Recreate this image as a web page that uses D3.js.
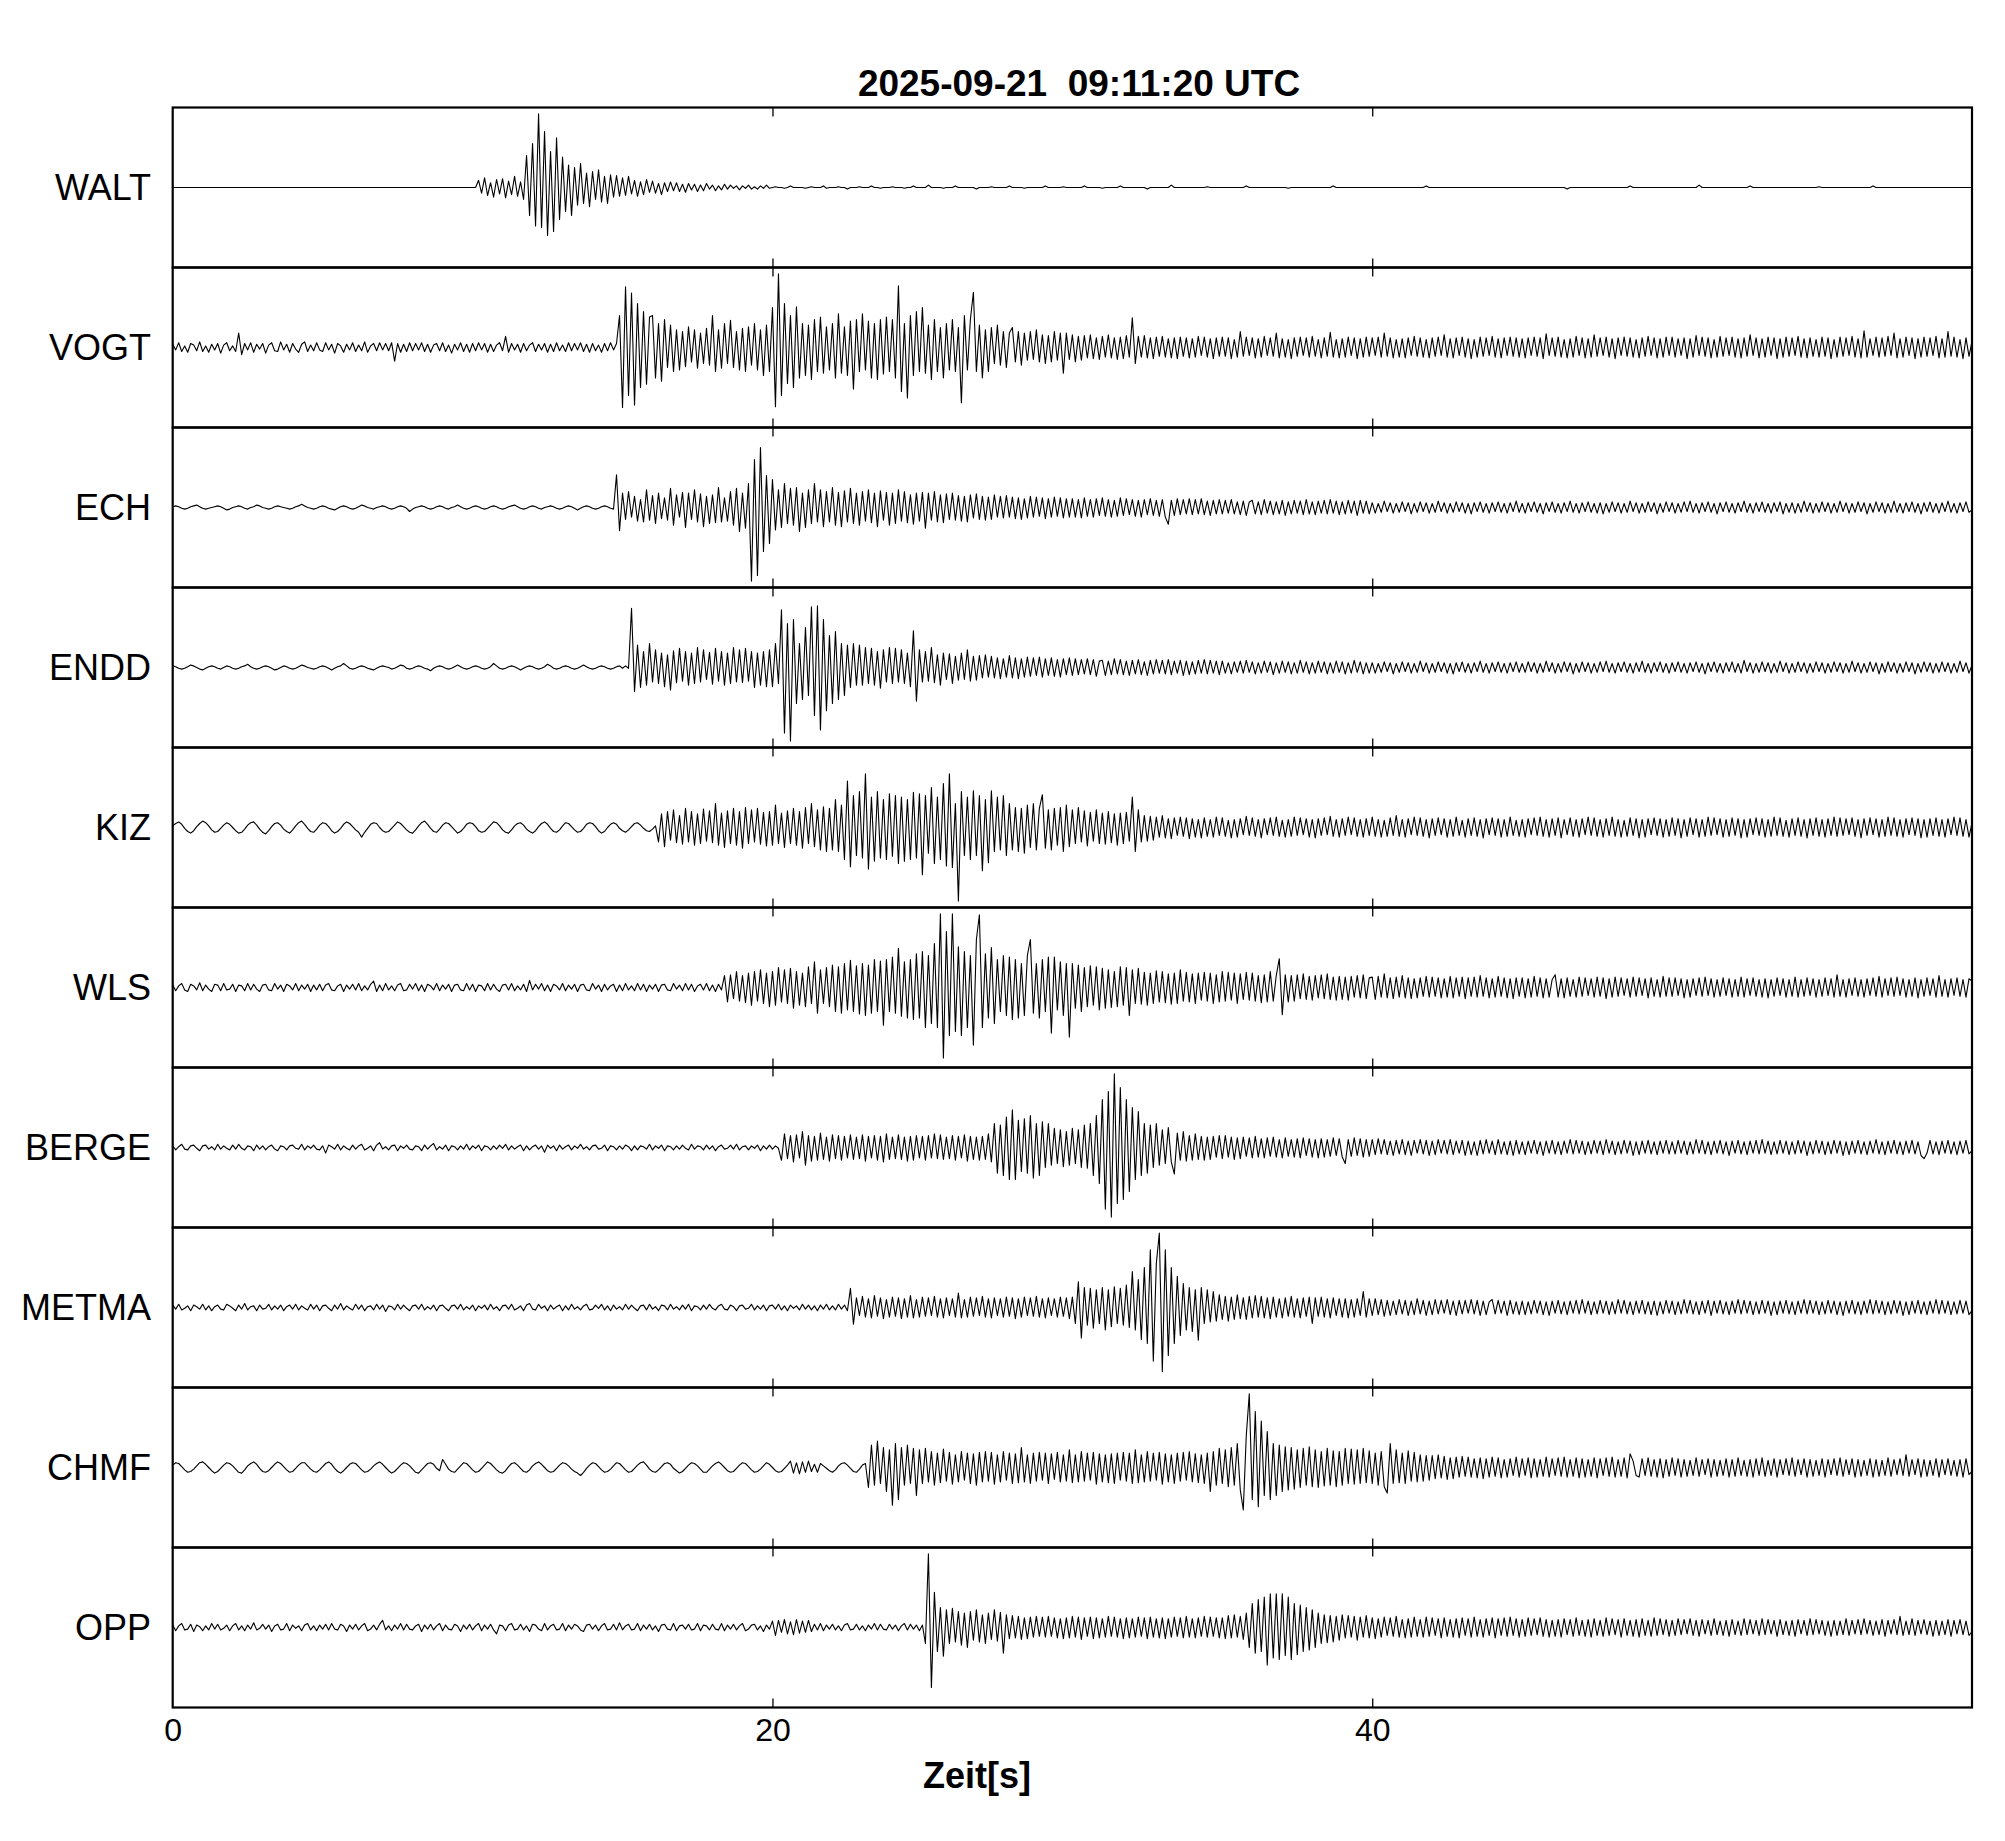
<!DOCTYPE html>
<html>
<head>
<meta charset="utf-8">
<script src="https://cdn.jsdelivr.net/npm/d3@7"></script>
<style>
  body { margin: 0; background: #fff; }
  text { font-family: "Liberation Sans", Arial, Helvetica, sans-serif; fill: #000; }
</style>
</head>
<body>
<script>
// seismogram samples: one value every 0.1 s from 0 to 60 s,
// relative amplitude (+-100 = half the track height). one row = 5 s
const DT = 0.1;
const stations = ["WALT", "VOGT", "ECH", "ENDD", "KIZ", "WLS", "BERGE", "METMA", "CHMF", "OPP"];
const xTicks = [0, 20, 40];
const title = "2025-09-21  09:11:20 UTC";
const xLabel = "Zeit[s]";

const WALT = [
  0,0,0,0,0,0,0,0,0,0,  0,0,0,0,0,0,0,0,0,0,  0,0,0,0,0,0,0,0,0,0,  0,0,0,0,0,0,0,0,0,0,  0,0,0,0,0,0,0,0,0,0,
  0,0,0,0,0,0,0,0,0,0,  0,0,0,0,0,0,0,0,0,0,  0,0,0,0,0,0,0,0,0,0,  0,0,0,0,0,0,0,0,0,0,  0,0,0,0,0,0,0,0,0,0,
  0,0,9,-7,12,-10,6,-12,10,-8,  11,-13,8,-9,14,-11,7,-15,40,-35,  55,-48,92,-50,70,-60,45,-55,62,-40,  38,-30,28,-35,25,-22,30,-20,18,-24,  20,-15,22,-18,14,-20,16,-12,15,-11,
  12,-10,14,-8,9,-11,7,-9,10,-6,  8,-7,5,-9,6,-5,7,-4,6,-5,  4,-6,5,-3,4,-5,3,-4,5,-2,  3,-4,2,-3,4,-2,3,-1,2,-3,  2,-1,3,-2,1,-2,2,-1,3,-1,
  0,1,0,0,-1,0,2,0,0,0,  0,-1,0,1,0,0,0,2,-1,0,  0,0,1,0,0,-2,0,0,0,1,  0,0,0,2,0,0,-1,0,0,0,  1,0,0,0,-1,0,0,2,0,0,
  0,0,3,0,0,0,0,-1,0,0,  0,2,0,0,0,0,0,0,-2,0,  0,0,0,1,0,0,0,0,0,2,  0,0,0,0,-1,0,0,0,0,0,  0,2,0,0,0,0,0,1,0,0,
  0,0,0,0,2,0,0,0,0,0,  -1,0,0,0,0,0,2,0,0,0,  0,0,0,0,0,-2,0,0,0,0,  0,0,0,3,0,0,0,0,0,0,  0,0,0,0,0,1,0,0,0,0,
  0,0,0,0,0,0,0,0,2,0,  0,0,0,0,0,0,0,0,0,0,  0,0,-1,0,0,0,0,0,0,0,  0,0,0,0,0,0,0,2,0,0,  0,0,0,0,0,0,0,0,0,0,
  0,0,0,0,0,0,0,0,0,0,  0,0,0,0,0,0,0,0,2,0,  0,0,0,0,0,0,0,0,0,0,  0,0,0,0,0,0,0,0,0,0,  0,0,0,0,0,0,0,0,0,0,
  0,0,0,0,0,0,0,0,0,0,  0,0,0,0,0,-2,0,0,0,0,  0,0,0,0,0,0,0,0,0,0,  0,0,0,0,0,0,2,0,0,0,  0,0,0,0,0,0,0,0,0,0,
  0,0,0,0,0,0,0,0,0,3,  0,0,0,0,0,0,0,0,0,0,  0,0,0,0,0,0,2,0,0,0,  0,0,0,0,0,0,0,0,0,0,  0,0,0,0,0,0,0,0,0,1,
  0,0,0,0,0,0,0,0,0,0,  0,0,0,0,0,0,0,2,0,0,  0,0,0,0,0,0,0,0,0,0,  0,0,0,0,0,0,0,0,0,0,  0,0,0,0,0,0,0,0,0,0,
  0
];
const VOGT = [
  4,-3,6,-5,2,-6,5,3,-4,7,  -5,2,-6,4,-3,5,-7,3,6,-4,  2,-5,18,-9,5,-3,6,-6,4,-2,  5,-7,3,6,-4,-5,7,-3,4,-6,  5,-2,-6,4,7,-5,3,-4,6,-3,
  -5,6,-3,4,-7,5,2,-6,4,-3,  6,-5,3,-4,7,-6,2,5,-4,6,  -3,5,-4,6,-17,5,-6,4,-5,6,  -4,5,-3,6,-5,4,-6,3,5,-4,  6,-5,3,-7,4,-3,6,-5,4,-6,
  5,-4,6,-3,5,-6,4,-5,3,6,  -4,14,-6,5,-3,4,-6,5,-4,3,  6,-5,4,-3,5,-6,4,-5,6,-4,  3,-5,6,-4,5,-3,6,-5,4,-6,  5,-4,3,-6,5,-4,6,-3,5,40,
  -75,76,-60,68,-72,55,-50,45,-46,38,  40,-38,30,-42,35,-25,28,-30,22,-28,  20,-24,26,-18,22,-26,18,-20,24,-22,  40,-30,22,-26,30,-20,34,-25,20,-28,  24,-30,26,-22,30,-28,22,-35,28,-30,
  50,-74,92,-60,55,-45,40,-50,51,-38,  30,-35,28,-40,35,-30,38,-32,26,-28,  30,-38,42,-32,26,-35,33,-52,35,-30,  42,-28,33,-38,30,-40,35,-33,38,-30,  35,-38,77,-55,30,-63,40,-35,45,-30,
  50,-32,28,-40,35,-30,25,-38,30,-28,  35,-30,25,-69,40,-28,35,69,-30,28,  -38,22,-30,25,-20,28,-22,20,-25,18,  25,-18,20,-22,18,-16,20,-15,22,-18,  16,-20,15,-18,20,-16,18,-32,18,-15,
  16,-18,14,-16,15,-13,16,-14,12,-15,  14,-12,16,-13,12,-15,13,-14,15,-12,  37,-20,14,-12,15,-13,12,-14,13,-11,  14,-12,11,-13,12,-14,13,-11,12,-13,  11,-12,14,-10,13,-12,11,-14,12,-11,
  13,-11,12,-14,10,-12,20,-11,13,-10,  12,-13,11,-12,14,-10,12,-11,18,-13,  11,-12,10,-14,12,-11,13,-10,12,-12,  14,-11,10,-13,12,-11,19,-12,10,-13,  11,-12,13,-10,12,-14,11,-12,13,-11,
  12,-10,13,-12,18,-11,12,-13,10,-12,  11,-13,12,-10,14,-11,12,-12,10,-13,  12,-11,13,-10,16,-12,11,-13,12,-10,  13,-12,11,-14,10,-12,13,-11,12,-10,  14,-12,11,-13,12,-10,13,-11,12,-12,
  11,-13,12,-10,13,-11,12,-14,17,-10,  12,-11,13,-12,10,-13,11,-12,14,-10,  12,-13,11,-12,16,-11,12,-10,13,-12,  11,-14,12,-10,13,-11,12,-12,10,-13,  12,-11,14,-10,12,-13,11,-12,13,-10,
  13,-12,11,-10,12,-14,11,-12,15,-10,  13,-11,12,-13,10,-12,14,-11,12,-10,  13,-12,11,-13,12,-11,16,-10,12,-13,  11,-12,13,-10,12,-14,11,-12,13,-11,  12,-10,14,-12,11,-13,12,-11,10,-12,
  13,-11,12,-14,10,-12,13,-11,12,-10,  14,-12,11,-13,21,-12,11,-10,13,-12,  12,-11,14,-10,18,-13,11,-12,13,-10,  12,-14,11,-12,13,-11,12,-10,14,-13,  11,-12,20,-11,13,-12,10,-14,12,-11,
  8
];
const ECH = [
  1,2,1,-1,-2,-1,1,2,3,1,  -1,-2,-1,0,1,2,1,-1,-3,-2,  0,1,2,1,-1,-2,0,1,3,2,  0,-1,-2,-1,1,2,1,0,-1,-2,  -1,1,2,4,2,0,-1,-2,-1,1,
  2,1,-1,-2,-3,-1,1,2,1,-1,  -2,-1,1,3,2,0,-1,-2,0,1,  2,1,-1,-2,-1,1,2,1,-1,-5,  -2,0,1,2,1,-1,-2,-1,1,2,  1,-1,-2,0,1,3,1,-1,-2,-1,
  1,2,1,-1,-2,-1,1,2,1,-1,  -2,-1,1,2,3,1,-1,-2,-1,1,  2,1,-1,-2,0,1,2,1,-1,-2,  -1,1,2,1,-1,-3,-1,1,2,1,  -1,-2,-1,1,2,1,-1,-2,41,-29,
  18,-15,20,-12,14,-17,10,-18,22,-16,  15,-20,18,-14,12,-16,24,-22,16,-12,  19,-25,18,-15,22,-18,17,-24,14,-20,  16,-19,25,-18,12,-17,20,-22,24,-30,  18,-26,30,-92,60,-85,75,-55,40,-45,
  35,-28,22,-25,30,-20,24,-22,25,-30,  18,-25,22,-20,30,-18,22,-24,20,-18,  25,-22,19,-24,21,-18,24,-20,18,-22,  20,-17,22,-19,18,-24,21,-16,19,-22,  18,-20,22,-17,20,-19,16,-21,18,-17,
  19,-26,18,-16,20,-18,16,-19,17,-15,  18,-16,15,-17,14,-18,16,-13,17,-15,  14,-16,13,-15,16,-12,14,-13,15,-12,  13,-14,12,-15,11,-13,14,-12,13,-11,  12,-14,11,-12,13,-11,12,-13,11,-12,
  11,-12,10,-13,12,-11,10,-12,11,-10,  12,-11,10,-12,9,-11,12,-10,11,-9,  10,-11,9,-12,10,-9,11,-10,9,-11,  10,-12,-21,9,-10,11,-9,10,-8,11,  -9,10,-8,11,-9,8,-10,9,-8,10,
  -8,9,-7,10,-8,7,-9,8,-10,7,  9,-8,7,-9,10,-7,8,-9,7,-8,  9,-10,7,-8,9,-7,8,-9,10,-8,  7,-9,8,-7,9,-8,10,-7,8,-9,  7,-8,9,-7,8,-10,9,-7,8,-8,
  6,-7,5,-6,8,-5,6,-7,5,-6,  7,-5,6,-8,5,-6,7,-5,6,-7,  5,-6,8,-5,6,-7,5,-6,7,-5,  6,-7,5,-8,6,-5,7,-6,5,-7,  6,-5,7,-6,5,-7,6,-5,8,-6,
  5,-7,6,-5,7,-6,5,-8,6,-5,  7,-6,5,-7,6,-5,8,-6,5,-7,  6,-5,7,-6,5,-7,6,-8,5,-6,  7,-5,6,-7,5,-6,8,-5,6,-7,  5,-6,7,-5,6,-8,5,-6,7,-5,
  6,-7,5,-6,7,-5,8,-6,5,-7,  6,-5,7,-6,5,-8,6,-5,7,-6,  5,-7,6,-5,8,-6,5,-7,6,-5,  7,-6,5,-7,6,-5,7,-8,5,-6,  6,-7,5,-6,8,-5,6,-7,5,-6,
  7,-5,6,-7,5,-6,8,-5,6,-7,  5,-6,7,-5,6,-8,5,-6,7,-5,  6,-7,5,-6,8,-6,5,-7,6,-5,  7,-6,5,-8,6,-5,7,-6,5,-7,  6,-5,8,-6,5,-7,6,-5,7,-6,
  -3
];
const ENDD = [
  2,1,-1,-2,-1,1,3,2,0,-2,  -3,-1,1,2,1,-1,-2,0,2,1,  -1,-2,-1,1,2,4,1,-1,-2,-1,  1,2,1,-1,-3,-2,0,2,1,-1,  -2,-1,1,3,2,0,-1,-2,-1,1,
  2,1,-1,-3,-1,1,2,5,2,-1,  -2,-1,1,2,1,-1,-2,-3,-1,1,  2,1,0,-2,-1,1,3,2,-1,-2,  -1,1,2,1,-1,-2,-4,-1,1,2,  1,-1,-2,-1,1,3,1,-1,-2,-1,
  1,2,1,-1,-2,-1,1,5,2,-1,  -2,-1,1,2,1,-1,-3,-1,1,2,  1,-1,-2,-1,1,4,2,-1,-2,-1,  1,2,1,-1,-2,-1,1,3,1,-1,  -2,-1,1,2,1,-1,-2,-1,1,2,
  -1,2,-1,74,-30,28,-25,20,-22,30,  -18,22,-20,18,-24,16,-28,21,-19,24,  -17,20,-22,18,-20,25,-18,22,-15,19,  -21,24,-17,20,-22,18,-20,25,-18,22,  -19,24,-17,20,-25,18,-22,20,-24,22,
  -24,30,-20,72,-82,55,-92,60,-45,30,  -40,50,-35,76,-60,77,-78,60,-54,40,  -45,45,-40,30,-35,28,-25,30,-22,28,  -22,25,-20,24,-22,20,-26,22,-18,25,  -20,24,-18,22,-20,18,-24,46,-42,22,
  -18,20,-17,25,-19,16,-22,18,-15,17,  -20,14,-16,18,-15,22,-17,14,-16,15,  -13,16,-12,14,-13,12,-14,11,-12,15,  -13,12,-14,11,-12,13,-11,12,-10,13,  -12,11,-10,12,-11,10,-12,11,-9,12,
  -10,11,-9,10,-8,11,-9,10,-11,8,  9,-10,8,-9,11,-8,10,-9,8,-10,  9,-8,10,-9,7,-10,9,-8,10,-7,  9,-8,10,-9,8,-7,9,-10,8,-9,  7,-8,9,-7,10,-8,9,-7,8,-9,
  8,-7,6,-8,7,-6,8,-7,9,-6,  7,-8,6,-7,8,-6,7,-9,6,-7,  8,-6,7,-8,6,-7,9,-6,7,-8,  6,-7,8,-6,7,-8,6,-7,8,-6,  7,-8,6,-7,9,-6,7,-8,6,-7,
  6,-7,5,-6,7,-5,6,-8,5,-6,  7,-5,6,-7,5,-6,8,-5,6,-7,  5,-6,7,-5,6,-7,5,-8,6,-5,  7,-6,5,-7,6,-5,8,-6,5,-7,  6,-5,7,-6,5,-7,6,-5,7,-6,
  5,-6,7,-5,6,-7,5,-6,8,-5,  6,-7,5,-6,7,-5,6,-8,5,-6,  7,-5,6,-7,5,-6,7,-5,8,-6,  5,-7,6,-5,7,-6,5,-7,6,-5,  8,-6,5,-7,6,-5,7,-6,5,-7,
  6,-5,7,-6,5,-7,6,-5,7,-6,  5,-8,6,-5,7,-6,5,-7,6,-5,  7,-6,5,-7,9,-5,6,-7,5,-6,  7,-5,6,-7,5,-6,8,-5,6,-7,  5,-6,7,-5,6,-7,5,-6,7,-5,
  6,-7,5,-6,7,-5,6,-7,5,-6,  8,-5,6,-7,5,-6,7,-5,6,-8,  5,-6,7,-5,6,-7,5,-6,7,-5,  6,-8,5,-6,7,-5,6,-7,5,-6,  7,-5,6,-7,5,-6,8,-5,6,-7,
  3
];
const KIZ = [
  2,5,7,4,-1,-5,-7,-4,1,5,  8,6,2,-3,-6,-5,-1,3,6,4,  0,-4,-7,-6,-2,3,6,7,3,-2,  -6,-8,-4,1,5,6,3,-2,-5,-7,  -3,2,6,8,4,-1,-5,-6,-2,3,
  6,5,1,-4,-7,-5,-1,4,7,5,  1,-3,-6,-12,-6,-1,4,6,5,0,  -4,-6,-5,-1,3,7,5,1,-3,-6,  -7,-3,2,6,8,4,-1,-5,-6,-2,  3,6,5,1,-3,-7,-5,-1,4,6,
  5,1,-4,-6,-5,-1,3,7,6,2,  -3,-6,-7,-3,2,5,6,3,-2,-5,  -7,-4,1,5,7,4,-1,-5,-6,-3,  2,6,5,1,-3,-6,-5,-1,4,6,  5,1,-4,-7,-5,0,4,6,4,-1,
  -4,-6,-3,1,5,6,3,-1,-4,-5,  -2,2,-18,17,-24,20,-16,22,-19,15,  -21,24,-18,20,-22,17,-20,23,-17,21,  -19,30,-22,18,-25,21,-20,24,-22,20,  -26,25,-20,22,-18,24,-21,19,-23,20,
  -22,28,-20,18,-25,21,-20,24,-22,20,  -26,25,-20,30,-24,22,-28,26,-30,24,  -28,35,-30,28,-40,58,-49,40,-35,45,  -38,67,-52,38,-42,45,-38,35,-40,42,  -36,40,-45,38,-42,35,-40,44,-38,42,
  -59,40,-32,50,-45,38,-40,55,-48,67,  -50,30,-92,45,-35,38,-40,46,-35,40,  -54,35,-44,46,-30,38,-28,40,-35,30,  -28,25,-30,24,-32,28,-25,30,-28,24,  41,-26,22,-28,24,-22,25,-30,28,-24,
  22,-20,25,-18,21,-23,19,-17,22,-20,  18,-21,20,-19,17,-22,18,-20,19,-17,  38,-30,22,-18,15,-17,14,-16,13,-12,  15,-13,11,-14,12,-10,13,-11,12,-14,  11,-12,10,-13,12,-11,10,-12,13,-10,
  12,-11,9,-13,10,-12,11,-9,14,-10,  12,-11,10,-13,11,-9,12,-10,13,-11,  9,-12,10,-11,13,-10,12,-9,11,-12,  10,-13,11,-10,12,-9,14,-11,10,-12,  11,-10,13,-9,12,-11,10,-12,11,-10,
  13,-11,10,-12,9,-11,12,-10,15,-11,  10,-12,11,-9,13,-10,12,-11,10,-13,  11,-10,12,-9,11,-12,10,-11,13,-10,  9,-12,11,-10,12,-11,10,-13,11,-9,  12,-10,11,-12,10,-11,13,-10,9,-11,
  10,-12,11,-9,12,-10,13,-11,10,-12,  11,-10,12,-13,10,-9,12,-11,10,-12,  11,-9,13,-10,12,-11,10,-12,11,-10,  13,-11,10,-12,9,-11,12,-10,11,-13,  10,-12,11,-9,12,-10,11,-12,10,-11,
  12,-10,11,-13,10,-11,12,-9,11,-12,  10,-11,13,-10,12,-9,11,-12,10,-11,  12,-10,11,-13,10,-12,11,-9,12,-10,  11,-12,10,-11,13,-10,12,-11,9,-12,  11,-10,12,-11,10,-13,11,-10,12,-11,
  10,-12,11,-10,13,-11,12,-10,11,-9,  12,-11,10,-13,11,-10,12,-9,11,-12,  10,-11,13,-10,12,-11,10,-12,11,-9,  12,-10,11,-13,10,-12,11,-10,12,-11,  10,-12,11,-9,13,-10,12,-11,10,-12,
  6
];
const WLS = [
  3,-4,2,5,-3,-5,4,2,-3,6,  -4,3,-2,-5,4,3,-4,5,-3,-2,  4,-5,3,2,-4,5,-3,4,-2,-5,  3,4,-3,-4,5,-2,3,-5,4,2,  -3,5,-4,3,-2,4,-5,3,-3,4,
  -4,3,5,-3,-4,2,4,-5,3,-2,  4,-3,5,-4,2,-3,4,8,-5,3,  -4,5,-3,2,-4,3,5,-4,-3,4,  -2,5,-4,3,-5,4,2,-3,5,-4,  3,-2,4,-5,3,4,-3,-4,5,-3,
  4,-5,3,2,-4,5,-3,4,-2,-5,  3,4,-3,5,-4,2,-3,4,-5,9,  -3,4,-2,5,-4,3,-5,4,2,-3,  5,-4,3,-2,4,-5,3,4,-3,-4,  5,-2,3,-5,4,-3,2,4,-5,3,
  -4,5,-3,2,-4,5,-3,4,-5,3,  -2,4,-5,3,4,-3,-4,5,-2,3,  -4,5,-3,4,-5,2,4,-3,5,-4,  3,-5,4,-3,15,-18,16,-14,20,-17,  15,-19,18,-22,20,-17,22,-20,18,-24,
  20,-22,25,-18,22,-20,24,-26,20,-22,  18,-24,26,-20,32,-32,22,-20,25,-24,  28,-30,26,-32,30,-28,34,-30,27,-33,  30,-35,28,-32,35,-30,33,-47,35,-30,  38,-32,49,-36,32,-38,35,-40,42,-38,
  45,-50,40,-45,55,-50,92,-88,70,-60,  92,-55,51,-60,45,-50,40,-72,60,91,  -50,42,-38,50,-45,35,-30,40,-35,38,  -40,35,-38,30,-35,40,60,-32,30,-38,  35,-30,38,-57,38,-28,32,-35,30,-62,
  30,-26,28,-30,25,-24,27,-22,26,-28,  24,-26,22,-25,20,-24,26,-22,25,-35,  22,-20,24,-21,19,-22,18,-20,21,-18,  20,-19,17,-21,18,-20,22,-17,19,-18,  17,-20,18,-16,19,-17,18,-20,16,-18,
  20,-17,19,-16,18,-20,17,-15,19,-16,  18,-17,15,-19,16,-18,20,-17,15,36,  -34,16,-18,15,-17,16,-14,17,-15,14,  -16,15,-13,16,-14,17,-15,13,-16,14,  -15,13,-16,14,-12,15,-13,16,-14,12,
  13,-15,14,-12,17,-13,12,-14,13,-12,  15,-13,12,-14,11,-13,12,-11,14,-12,  13,-11,12,-13,11,-12,14,-13,12,-11,  13,-14,12,-11,13,-12,15,-11,12,-13,  11,-12,14,-11,12,-13,11,-14,12,-11,
  12,-13,11,-12,14,-11,12,-13,11,-12,  10,16,-12,11,-13,12,-11,10,-12,13,  -11,12,-10,11,-12,13,-11,12,-14,11,  -12,13,-11,12,-10,11,-12,13,-11,12,  -10,11,-13,12,-11,10,-12,14,-11,12,
  -11,12,-10,11,-13,10,-12,11,-10,12,  -11,13,-10,11,-12,10,-11,12,-10,11,  -12,10,-11,13,-12,11,-10,12,-11,10,  -12,11,-13,10,-11,12,-10,11,-12,10,  -11,13,-12,10,-11,12,-10,11,-12,10,
  -11,12,-10,11,-12,16,-11,10,-12,11,  -10,12,-11,10,-12,11,-10,12,-11,14,  -12,11,-10,12,-11,13,-10,11,-12,10,  -11,12,-13,10,-11,12,-10,11,-12,15,  -11,10,-12,11,-10,12,-11,10,-12,11,
  8
];
const BERGE = [
  2,-3,1,4,-2,-3,2,3,-1,-4,  2,3,-2,1,-3,4,-2,2,-1,-3,  3,-2,4,-1,-3,2,1,-4,3,-2,  2,-3,1,3,-2,-4,2,1,-3,2,  3,-1,-2,4,-3,2,-1,3,-2,-3,
  2,-7,3,1,-2,4,-3,2,-1,-3,  3,-2,2,4,-3,-1,2,-4,3,6,  -2,1,-3,2,3,-4,2,-1,3,-2,  -3,2,1,-4,3,-2,2,5,-3,1,  -2,3,-4,2,1,-3,2,-2,4,-3,
  2,-1,3,-4,2,1,-3,2,-2,3,  -1,4,-3,2,-2,1,3,-4,2,-3,  1,3,-2,2,-6,3,-1,2,-4,3,  -2,1,3,-3,2,-1,4,-2,1,-3,  2,3,-2,-1,3,-4,2,1,-3,2,
  -2,3,1,-4,2,-3,2,1,-2,4,  -3,2,-1,3,-4,2,1,-3,2,-2,  3,-1,-3,4,-2,2,1,-3,3,-2,  2,-4,1,3,-2,-1,3,-2,4,-3,  1,2,-3,2,-1,3,-4,2,-2,3,
  -2,2,-1,-16,17,-14,15,-18,16,-13,  20,-22,15,-17,14,-16,18,-15,13,-17,  16,-14,15,-16,14,-13,16,-15,13,-14,  16,-17,14,-13,15,-16,14,-18,17,-15,  13,-14,16,-15,13,-17,14,-16,15,-13,
  14,-16,15,-13,17,-14,16,-15,13,-14,  15,-16,14,-13,16,-17,14,-15,13,-16,  14,-15,17,-18,30,-32,28,-35,38,-40,  47,-40,34,-30,36,-32,40,-38,30,-35,  32,-25,30,-22,24,-20,22,-24,20,-22,
  24,-20,22,-25,28,-26,30,-35,40,-45,  60,-77,70,-87,92,-70,75,-65,60,-55,  50,-40,45,-35,30,-32,28,-25,30,-22,  22,-20,25,-18,-33,18,-16,20,-17,15,  -16,17,-15,14,-16,13,-15,14,-12,15,
  -14,15,-12,13,-15,12,-14,13,-11,12,  -13,14,-12,11,-13,12,-11,13,-12,10,  -13,12,-11,10,-12,11,-13,12,-10,11,  -12,10,-13,11,-12,10,-11,12,-10,11,  -12,-20,10,-11,12,-10,11,-12,10,-11,
  10,-9,11,-8,10,-9,8,-10,9,-8,  10,-9,8,-10,9,-7,10,-8,9,-10,  8,-9,10,-7,9,-8,10,-9,8,-7,  9,-10,8,-9,7,-10,9,-8,10,-7,  8,-9,10,-8,7,-9,8,-10,9,-8,
  7,-9,8,-7,9,-8,7,-10,8,-7,  9,-8,7,-9,8,-7,10,-8,9,-7,  8,-9,7,-8,9,-7,8,-9,10,-7,  8,-9,7,-8,9,-7,8,-10,7,-9,  8,-7,9,-8,7,-9,8,-7,9,-8,
  7,-8,9,-7,8,-9,7,-8,10,-7,  9,-8,7,-9,8,-7,9,-8,7,-10,  8,-7,9,-8,7,-9,8,-7,9,-8,  10,-7,8,-9,7,-8,9,-7,8,-9,  7,-8,9,-7,8,-10,7,-8,9,-7,
  8,-9,7,-8,9,-7,8,-10,7,-9,  8,-7,9,-8,7,-9,8,-7,10,-8,  7,-9,8,-7,9,-8,7,-9,8,-7,  9,-8,7,-10,-14,-7,9,-8,7,-9,  8,-7,9,-8,7,-9,8,-7,9,-8,
  -4
];
const METMA = [
  3,-2,4,-3,-1,2,-4,3,1,-2,  4,-3,2,-4,1,3,-2,-3,4,2,  -1,-4,3,-2,5,-3,1,2,-4,3,  -2,-1,4,-3,2,-2,3,-4,1,3,  -2,4,-3,2,-1,-3,4,-2,3,-4,
  2,3,-1,-4,3,-2,5,-3,2,-1,  -3,4,-2,3,-4,1,2,-3,4,-2,  3,-5,2,1,-3,4,-2,3,-1,-4,  2,3,-2,4,-3,1,-2,3,-4,2,  3,-1,-4,2,3,-2,4,-3,1,-2,
  3,-4,2,-1,3,-3,4,-2,1,-4,  2,3,-2,4,-3,-1,2,-4,3,5,  -2,-3,4,-1,2,-4,3,-2,1,3,  -4,2,-3,4,-2,1,-3,2,4,-3,  -2,3,-1,4,-3,2,-4,3,-2,1,
  -3,4,-2,3,-1,-4,2,3,-3,4,  -2,1,-4,3,2,-3,4,-2,1,-3,  3,-2,4,-4,2,1,-3,3,-2,4,  -1,-3,2,4,-2,-3,3,1,-4,2,  3,-2,-1,4,-3,2,-2,3,-4,2,
  3,-2,4,-3,2,-4,3,-1,2,-3,  4,-2,3,-3,2,-4,3,-2,4,-3,  2,-3,4,-2,3,-4,24,-21,12,-10,  14,-12,11,-13,15,-11,12,-14,10,-12,  13,-11,12,-14,11,-12,15,-13,10,-12,
  13,-11,12,-10,14,-12,11,-13,12,-10,  11,-12,18,-13,10,-12,13,-11,12,-10,  14,-12,11,-13,12,-10,11,-12,13,-11,  12,-14,11,-12,13,-10,12,-11,14,-12,  11,-13,12,-10,11,-12,13,-11,12,-14,
  13,-20,32,-38,25,-22,24,-26,22,-20,  25,-28,22,-24,26,-20,24,-22,28,-25,  45,-28,35,-40,50,-45,72,-67,55,93,  -80,72,-60,50,-45,39,-35,30,-28,25,  -30,22,-41,25,-20,22,-18,20,-17,16,
  -15,14,-17,13,-15,16,-14,12,-15,14,  -13,15,-12,14,-13,12,-14,13,-12,11,  -13,12,-11,14,-12,11,-13,12,-11,13,  -20,12,-11,13,-12,11,-13,12,-10,11,  -12,11,-13,10,-12,11,-10,20,-12,11,
  -10,11,-9,10,-11,9,-10,8,-9,10,  -8,9,-10,8,-9,11,-8,9,-10,8,  -9,10,-8,9,-7,10,-9,8,-10,9,  -8,9,-7,10,-8,9,-10,8,-9,7,  10,-8,9,-7,8,-10,9,-8,7,-9,
  8,-9,7,-8,9,-7,8,-9,7,-10,  8,-7,9,-8,7,-9,8,-7,9,-8,  10,-7,8,-9,7,-8,9,-7,8,-9,  7,-8,10,-7,9,-8,7,-9,8,-7,  9,-8,7,-9,8,-10,7,-8,9,-7,
  8,-9,7,-8,10,-7,9,-8,7,-9,  8,-7,9,-10,8,-7,9,-8,7,-9,  8,-7,10,-8,9,-7,8,-9,7,-8,  9,-7,8,-10,7,-9,8,-7,9,-8,  7,-9,8,-7,10,-8,9,-7,8,-9,
  7,-8,9,-7,8,-9,7,-10,8,-7,  9,-8,7,-9,8,-7,10,-8,9,-7,  8,-9,7,-8,9,-7,8,-10,7,-9,  8,-7,9,-8,7,-9,8,-7,10,-8,  9,-7,8,-9,7,-8,9,-7,8,-9,
  -4
];
const CHMF = [
  3,6,5,1,-3,-6,-5,-2,2,6,  7,4,0,-4,-7,-5,-1,3,6,5,  2,-2,-6,-7,-3,2,5,7,4,-1,  -5,-6,-4,0,4,7,5,1,-3,-6,  -5,-1,3,6,6,2,-2,-5,-6,-3,
  1,5,7,4,-1,-5,-7,-4,0,4,  6,5,1,-3,-6,-5,-2,2,5,7,  4,0,-4,-7,-5,-1,3,6,5,2,  -2,-6,-7,-3,1,5,6,4,-1,-4,  10,4,-2,-5,-6,-2,2,6,5,1,
  -3,-6,-5,-1,3,7,5,1,-3,-6,  -7,-4,1,5,6,3,-1,-5,-6,-3,  2,5,7,4,0,-4,-6,-5,-1,3,  6,5,2,-2,-5,-7,-10,-6,-1,3,  6,5,1,-3,-6,-5,-2,2,6,5,
  1,-3,-6,-5,-1,3,6,7,3,-2,  -5,-6,-3,1,5,6,4,-1,-4,-7,  -5,-1,3,6,5,2,-2,-6,-6,-2,  2,5,7,4,0,-4,-6,-5,-1,3,  6,5,1,-3,-6,-5,-2,2,6,4,
  0,-4,-6,-5,-1,3,8,-7,6,-8,  7,-6,8,-5,4,-6,5,2,-1,-4,  -6,-3,2,5,6,3,-1,-5,-6,-2,  3,5,-25,28,-22,33,-20,25,-30,22,  -47,30,-40,25,-22,28,-20,24,-35,22,
  -20,24,-18,20,-22,18,-19,23,-17,19,  -21,16,-18,20,-16,18,-20,17,-22,19,  -18,20,-17,19,-21,16,-18,20,-16,18,  -20,17,-19,25,-18,16,-20,18,-17,19,  -16,18,-20,17,-15,19,-18,16,-17,22,
  -19,16,-18,20,-17,18,-16,19,-21,17,  -18,16,-19,17,-20,18,-16,19,-17,18,  -20,22,-19,16,-18,20,-17,18,-16,19,  -21,17,-18,16,-20,18,-17,19,-16,20,  -18,17,-19,16,-20,18,-30,20,-22,24,
  -20,22,-24,25,-22,30,-28,-53,40,92,  -40,70,-49,58,-35,45,-40,30,-35,28,  -30,26,-28,25,-27,22,-25,24,-22,26,  -24,22,-25,20,-23,24,-22,21,-24,20,  -22,24,-20,23,-21,22,-20,24,-19,21,
  -20,18,-22,20,-24,-32,30,-20,22,-19,  18,-20,21,-17,19,-18,16,-17,15,-16,  15,-14,16,-13,14,-15,12,-14,13,-12,  14,-11,13,-12,11,-13,12,-14,11,-12,  13,-11,12,-13,10,-12,11,-10,13,-12,
  11,-10,12,-13,11,-12,10,-11,13,-12,  11,-10,12,-11,13,-12,10,-11,12,-13,  11,-12,10,-11,12,-13,11,-10,12,-11,  13,-12,10,-11,12,-13,17,8,-10,-12,  11,-10,12,-11,10,-12,11,-13,10,-11,
  12,-10,11,-12,10,-11,9,-10,12,-11,  10,-9,11,-12,10,-11,9,-10,11,-12,  10,-11,12,-10,9,-11,10,-12,11,-10,  12,-11,9,-10,11,-12,10,-9,11,-10,  12,-11,10,-9,11,-12,10,-11,9,-10,
  11,-12,10,-9,11,-10,12,-11,10,-9,  11,-12,10,-11,9,-10,11,-12,10,-11,  9,-10,12,-11,10,-9,11,-10,16,-11,  10,-9,11,-12,10,-11,9,-10,11,-12,  10,-9,11,-10,9,-11,10,-12,11,-9,
  -5
];
const OPP = [
  3,-4,2,5,-3,-2,4,-5,3,1,  -4,2,-3,5,-2,4,-3,-1,3,-4,  2,5,-3,2,-4,3,-2,6,-3,-1,  4,-2,3,-5,2,4,-3,-2,5,-4,  3,-1,2,-4,3,5,-3,2,-4,3,
  -2,4,-3,5,-2,-3,4,2,-5,3,  -2,4,-3,2,5,-4,-2,3,-3,4,  9,-3,2,-4,3,-2,5,-3,4,-2,  -3,2,4,-5,3,-2,4,-3,2,5,  -4,3,-2,-3,4,2,-5,3,-2,4,
  -3,2,5,-4,3,-2,4,-3,-8,3,  2,-4,3,5,-3,-2,4,-3,2,-5,  4,3,-2,-4,5,-3,2,4,-3,-2,  5,-4,3,-2,4,2,-3,-5,3,4,  -2,3,-4,2,5,-3,-2,4,-3,6,
  -3,2,4,-3,-2,5,-4,3,-2,4,  -3,2,-5,3,4,-2,-3,5,-4,2,  3,-2,4,-3,-2,5,-4,3,2,-3,  4,-2,-3,5,-4,3,-2,4,-3,2,  5,-4,-2,3,4,-3,2,-5,3,-2,
  8,-10,9,-6,10,-8,7,-9,10,-7,  8,-6,9,-5,4,-3,5,-4,3,-2,  4,-3,2,-4,3,5,-3,-2,4,-3,  2,-4,3,-2,5,-3,4,-2,-3,4,  -2,3,-4,2,5,-3,4,-2,3,-4,
  3,-20,92,-75,44,-30,25,-36,22,-20,  24,-18,20,-22,18,-25,20,-16,22,-18,  16,-20,18,-15,22,-17,19,-32,16,-14,  15,-13,14,-15,12,-14,13,-12,14,-11,  13,-12,14,-11,12,-13,11,-14,12,-13,
  14,-12,13,-15,12,-11,13,-14,12,-13,  11,-12,14,-11,13,-12,11,-14,12,-13,  11,-12,13,-11,12,-14,13,-12,11,-13,  12,-14,11,-12,13,-11,12,-13,14,-12,  11,-13,12,-11,14,-12,13,-11,12,-13,
  12,-14,15,-13,16,-12,14,-15,18,-25,  30,-32,35,-30,38,-47,42,-38,42,-40,  42,-35,38,-40,30,-34,28,-30,25,-28,  22,-25,18,-20,16,-19,15,-18,14,-16,  16,-13,15,-12,14,-16,13,-12,15,-13,
  12,-14,11,-12,13,-10,12,-11,14,-12,  10,-13,11,-12,13,-11,10,-12,13,-11,  12,-10,11,-13,12,-11,10,-12,11,-13,  12,-10,11,-12,13,-11,10,-12,11,-10,  12,-13,11,-10,12,-11,13,-10,11,-12,
  10,-11,12,-10,11,-9,12,-11,10,-12,  9,-11,10,-12,11,-9,10,-11,12,-10,  9,-11,10,-12,11,-10,9,-11,12,-10,  11,-9,10,-12,11,-10,9,-11,10,-12,  11,-10,9,-11,12,-10,11,-9,10,-11,
  9,-10,11,-9,10,-8,11,-10,9,-11,  10,-8,9,-10,11,-9,8,-10,9,-11,  10,-9,8,-10,11,-9,10,-8,9,-10,  11,-9,10,-8,9,-11,10,-9,8,-10,  9,-11,10,-8,9,-10,11,-9,10,-8,
  9,-10,8,-11,9,-10,8,-9,11,-10,  9,-8,10,-9,11,-8,9,-10,8,-9,  10,-11,9,-8,10,-9,14,-10,8,-9,  11,-10,9,-8,10,-9,8,-11,9,-10,  8,-9,10,-11,9,-8,10,-9,8,-10,
  -5
];
const traces = [WALT, VOGT, ECH, ENDD, KIZ, WLS, BERGE, METMA, CHMF, OPP];

const W = 2005, H = 1841;
const plotLeft = 172.7, plotRight = 1972, plotTop = 107.5, plotBottom = 1707.5;

const svg = d3.select("body").append("svg").attr("width", W).attr("height", H);
svg.append("rect").attr("width", W).attr("height", H).attr("fill", "#fff");

const x = d3.scaleLinear().domain([0, 60]).range([plotLeft, plotRight]);
const band = d3.scaleBand().domain(stations).range([plotTop, plotBottom]);
const h = band.bandwidth();

stations.forEach((name, k) => {
  const y0 = band(name);
  const y = d3.scaleLinear().domain([-100, 100]).range([y0 + h, y0]);
  const g = svg.append("g");
  if (traces[k].length !== 601) console.warn(name, traces[k].length);

  const line = d3.line().x((d, i) => x(i * DT)).y(d => y(d));
  g.append("path")
    .datum(traces[k])
    .attr("d", line)
    .attr("fill", "none")
    .attr("stroke", "#000")
    .attr("stroke-width", 1.1)
    .attr("stroke-linejoin", "round");

  // inward ticks top and bottom
  g.append("g").attr("transform", "translate(0," + y0 + ")")
    .call(d3.axisTop(x).tickValues([20, 40]).tickSize(-9).tickFormat(""))
    .call(a => a.select(".domain").remove())
    .selectAll("line").attr("stroke-width", 1.3);
  g.append("g").attr("transform", "translate(0," + (y0 + h) + ")")
    .call(d3.axisBottom(x).tickValues([20, 40]).tickSize(-9).tickFormat(""))
    .call(a => a.select(".domain").remove())
    .selectAll("line").attr("stroke-width", 1.3);

  g.append("rect")
    .attr("x", plotLeft).attr("y", y0)
    .attr("width", plotRight - plotLeft).attr("height", h)
    .attr("fill", "none").attr("stroke", "#000").attr("stroke-width", 2.2);

  svg.append("text")
    .attr("x", 151).attr("y", y0 + h / 2)
    .attr("dy", "0.36em")
    .attr("text-anchor", "end")
    .style("font-size", "36px")
    .text(name);
});

// bottom time axis labels
const ax = svg.append("g").attr("transform", "translate(0," + plotBottom + ")")
  .call(d3.axisBottom(x).tickValues(xTicks).tickSize(0).tickPadding(11).tickFormat(d3.format("d")));
ax.select(".domain").remove();
ax.selectAll("text").style("font-size", "32px").style("font-family", "Liberation Sans, Arial, sans-serif").attr("fill", "#000");

svg.append("text")
  .attr("x", 1079).attr("y", 96)
  .attr("text-anchor", "middle")
  .style("font-size", "37px").style("font-weight", "bold")
  .style("white-space", "pre")
  .attr("xml:space", "preserve")
  .text(title);

svg.append("text")
  .attr("x", 977).attr("y", 1788)
  .attr("text-anchor", "middle")
  .style("font-size", "36px").style("font-weight", "bold")
  .text(xLabel);
</script>
</body>
</html>
